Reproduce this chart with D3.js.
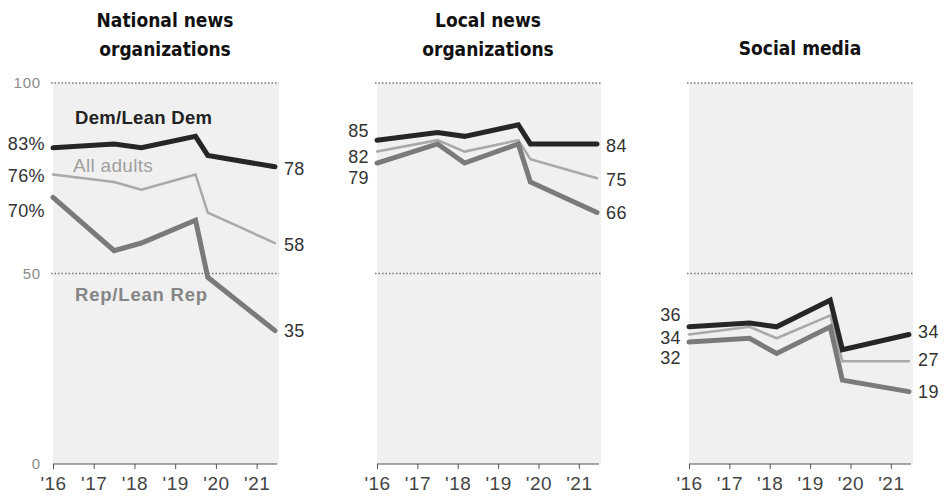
<!DOCTYPE html>
<html><head><meta charset="utf-8">
<script src="https://cdn.jsdelivr.net/npm/d3@7"></script>
<style>
body{margin:0;background:#fff;}
svg{display:block;}
.num{font-family:"Liberation Sans",Arial,sans-serif;}
.title{font-family:"Liberation Sans Narrow","DejaVu Sans Condensed","Liberation Sans",sans-serif;font-weight:bold;font-stretch:condensed;}
</style></head>
<body>
<svg id="chart" width="947" height="499"></svg>
<script>
// Survey dates (fractional years) for each wave
const dates = [2016.0, 2017.5, 2018.17, 2019.5, 2019.8, 2021.45];
const yearTicks = [2016, 2017, 2018, 2019, 2020, 2021];
const yearLabels = ["'16", "'17", "'18", "'19", "'20", "'21"];
const panelTitles = [["National news", "organizations"], ["Local news", "organizations"], ["Social media"]];
const seriesNames = ["All adults", "Rep/Lean Rep", "Dem/Lean Dem"];

// Values per panel: National, Local, Social
const allAdults = [
  [76, 74, 72, 76, 66, 58],
  [82, 85, 82, 85, 80, 75],
  [34, 36, 33, 39, 27, 27]
];
const repLeanRep = [
  [70, 56, 58, 64, 49, 35],
  [79, 84, 79, 84, 74, 66],
  [32, 33, 29, 36, 22, 19]
];
const demLeanDem = [
  [83, 84, 83, 86, 81, 78],
  [85, 87, 86, 89, 84, 84],
  [36, 37, 36, 43, 30, 34]
];
const firstLabels = [["76%", "70%", "83%"], ["82", "79", "85"], ["34", "32", "36"]];
const lastLabels = [["58", "35", "78"], ["75", "66", "84"], ["27", "19", "34"]];
const yTicks = [0, 50, 100];

// ---- layout / style (not data) ----
const panelX = [[53, 277], [377, 599], [689, 911]];
const yRange = [464, 83];
const colors = ["#a9a9a9", "#7a7a7a", "#262626"];
const widths = [2.5, 5, 5];
// label y offsets (px) for first and last labels, per panel, per series
const firstOff = [[1, 13, -4], [5, 15, -9], [3, 16, -12]];
const lastOff = [[2, 0, 2], [1, 0, 2], [-1, 0, -3]];

const svg = d3.select("#chart");
const y = d3.scaleLinear().domain([0, 100]).range(yRange);
const series = [allAdults, repLeanRep, demLeanDem];

panelX.forEach((px, p) => {
  const x = d3.scaleLinear().domain([2016, 2021.5]).range(px);
  const g = svg.append("g");
  // background
  g.append("rect")
    .attr("x", x(2016)).attr("y", y(100))
    .attr("width", x(2021.5) - x(2016) + 2).attr("height", y(0) - y(100))
    .attr("fill", "#f0f0f0");
  // dotted grid lines
  [50, 100].forEach(v => {
    g.append("line")
      .attr("x1", x(2016) - 2).attr("x2", x(2021.5) + 2)
      .attr("y1", y(v)).attr("y2", y(v))
      .attr("stroke", "#777").attr("stroke-width", 1.3)
      .attr("stroke-dasharray", "1.5,2");
  });
  // x axis
  const axis = d3.axisBottom(x).tickValues(yearTicks)
    .tickFormat((d, i) => yearLabels[i]).tickSize(5).tickSizeOuter(0).tickPadding(8);
  const ax = g.append("g").attr("transform", `translate(0,${y(0)})`)
    .attr("class", "xaxis").call(axis);
  ax.attr("font-size", 19).attr("font-family", "'Liberation Sans', Arial, sans-serif");
  ax.select(".domain").attr("stroke", "#555").attr("stroke-width", 1.2)
    .attr("d", `M${x(2016)},0H${x(2021.5)}`);
  ax.selectAll(".tick line").attr("stroke", "#555");
  ax.selectAll(".tick text").attr("fill", "#444").attr("letter-spacing", 0.5);

  // y tick labels on first panel
  if (p === 0) {
    yTicks.forEach(v => {
      g.append("text").attr("class", "num")
        .attr("x", 41).attr("y", y(v)).attr("dy", "0.35em")
        .attr("text-anchor", "end").attr("font-size", 15).attr("letter-spacing", 0.8)
        .attr("fill", "#8a8a8a")
        .text(v);
    });
  }

  // lines
  const line = d3.line().x((d, i) => x(dates[i])).y(d => y(d));
  series.forEach((s, k) => {
    g.append("path").datum(s[p])
      .attr("d", line)
      .attr("fill", "none").attr("stroke", colors[k])
      .attr("stroke-width", widths[k])
      .attr("stroke-linejoin", "miter").attr("stroke-linecap", "round");
  });

  // labels
  series.forEach((s, k) => {
    const vals = s[p];
    g.append("text").attr("class", "num")
      .attr("x", x(dates[0]) - 8).attr("y", y(vals[0]) + firstOff[p][k])
      .attr("dy", "0.35em").attr("text-anchor", "end")
      .attr("font-size", 18).attr("letter-spacing", 0.4).attr("fill", "#333")
      .text(firstLabels[p][k]);
    g.append("text").attr("class", "num")
      .attr("x", x(dates[dates.length - 1]) + 9).attr("y", y(vals[vals.length - 1]) + lastOff[p][k])
      .attr("dy", "0.35em").attr("text-anchor", "start")
      .attr("font-size", 18).attr("letter-spacing", 0.4).attr("fill", "#333")
      .text(lastLabels[p][k]);
  });

  // titles
  const tl = panelTitles[p];
  const cx = (px[0] + px[1]) / 2;
  tl.forEach((t, i) => {
    const base = tl.length === 2 ? 27 + i * 29 : 55;
    g.append("text").attr("class", "title")
      .attr("x", cx).attr("y", base).attr("text-anchor", "middle")
      .attr("font-size", 19).attr("fill", "#111").text(t);
  });

  // series name labels (first panel)
  if (p === 0) {
    g.append("text").attr("class", "num").attr("x", x(2016) + 22).attr("y", y(91))
      .attr("dy", "0.35em").attr("font-size", 18.5).attr("font-weight", "bold")
      .attr("letter-spacing", 0.3)
      .attr("fill", "#222").text(seriesNames[2]);
    g.append("text").attr("class", "num").attr("x", x(2016) + 20).attr("y", y(78.5))
      .attr("dy", "0.35em").attr("font-size", 19).attr("letter-spacing", 0.3)
      .attr("fill", "#a0a0a0").text(seriesNames[0]);
    g.append("text").attr("class", "num").attr("x", x(2016) + 22).attr("y", y(44.5))
      .attr("dy", "0.35em").attr("font-size", 18.5).attr("font-weight", "bold")
      .attr("letter-spacing", 0.8)
      .attr("fill", "#858585").text(seriesNames[1]);
  }
});
</script>
</body></html>
